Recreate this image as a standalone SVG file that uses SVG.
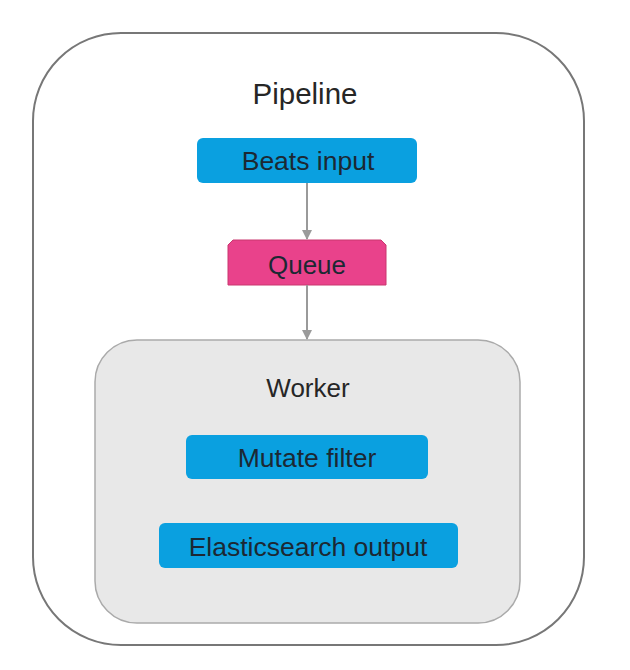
<svg xmlns="http://www.w3.org/2000/svg" width="630" height="670" viewBox="0 0 630 670">
<style>
.t{font-family:"Liberation Sans",Arial,sans-serif;text-anchor:middle;fill:#1c2833}
.blue{fill:#0aa0e0}
.conn{stroke:#9a9a9a;stroke-width:2;fill:none}
</style>
<defs>
<marker id="ah" markerWidth="10" markerHeight="10" refX="9" refY="5" orient="auto" markerUnits="userSpaceOnUse">
<path d="M0,0 L10,5 L0,10 Z" fill="#9a9a9a"/>
</marker>
</defs>
<rect width="630" height="670" fill="#fff"/>
<g id="pipeline">
<rect x="33" y="33" width="551" height="612" rx="88" ry="88" fill="#fff" stroke="#777" stroke-width="2"/>
<text class="t" x="305" y="104" font-size="29.5" style="fill:#262626">Pipeline</text>
</g>
<g id="worker">
<rect x="95" y="340" width="425" height="283" rx="42" ry="42" fill="#e8e8e8" stroke="#aaa" stroke-width="1.5"/>
<text class="t" x="308" y="397" font-size="26" style="fill:#262626">Worker</text>
</g>
<g id="beats-input">
<rect class="blue" x="197" y="138" width="220" height="45" rx="6"/>
<text class="t" x="308" y="170" font-size="26.5">Beats input</text>
</g>
<g id="queue">
<path d="M233,240 L381,240 L386,245 L386,285 L228,285 L228,245 Z" fill="#e9428b" stroke="#c9376f" stroke-width="1"/>
<text class="t" x="307" y="274" font-size="26">Queue</text>
</g>
<g id="mutate-filter">
<rect class="blue" x="186" y="435" width="242" height="44" rx="6"/>
<text class="t" x="307" y="467" font-size="26.5">Mutate filter</text>
</g>
<g id="es-output">
<rect class="blue" x="159" y="523" width="299" height="45" rx="6"/>
<text class="t" x="308" y="556" font-size="26.5">Elasticsearch output</text>
</g>
<g id="connectors">
<line class="conn" x1="307" y1="183" x2="307" y2="239" marker-end="url(#ah)"/>
<line class="conn" x1="307" y1="285" x2="307" y2="339" marker-end="url(#ah)"/>
</g>
</svg>
